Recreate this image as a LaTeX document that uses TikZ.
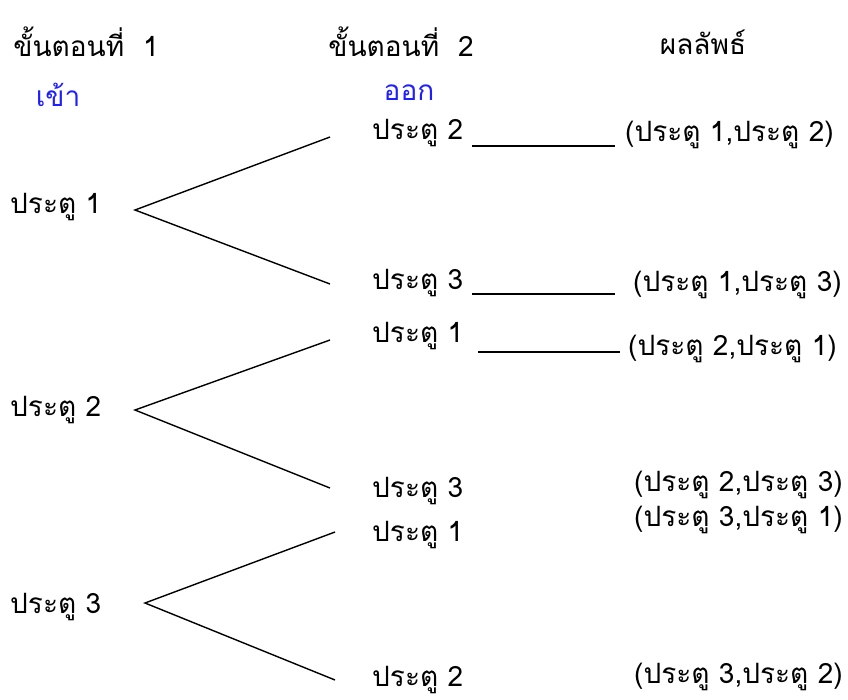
\documentclass[tikz,border=0pt]{standalone}
\usepackage{fontspec}
\setmainfont[Script=Thai]{Loma}
\newfontfamily\thaifont[Script=Thai]{Loma}
\usetikzlibrary{positioning}
\definecolor{headblue}{RGB}{30,30,255}
\begin{document}
\begin{tikzpicture}[x=1pt,y=-1pt,
  lbl/.style={anchor=west,inner sep=0pt,font=\thaifont\fontsize{28}{32}\selectfont},
  hd/.style={anchor=center,inner sep=0pt,font=\thaifont\fontsize{28}{32}\selectfont},
  bl/.style={hd,text=headblue},
  br/.style={line width=1.4pt,black}]
\useasboundingbox (0,0) rectangle (848,699);
% headings
\node[hd] (h1) at (86,42) {ขั้นตอนที่~~1};
\node[hd] (h2) at (401,42) {ขั้นตอนที่~~2};
\node[hd] (h3) at (703,42) {ผลลัพธ์};
\node[bl] (in) at (58,95) {เข้า};
\node[bl] (out) at (409,93) {ออก};
% level 1
\node[lbl] (a1) at (10,207) {ประตู 1};
\node[lbl] (a2) at (10,410) {ประตู 2};
\node[lbl] (a3) at (10,607) {ประตู 3};
\coordinate (p1) at (135,210);
\coordinate (p2) at (135,410);
\coordinate (p3) at (145,603);
\coordinate (e12) at (330,137);
\coordinate (e13) at (330,284);
\coordinate (e21) at (330,340);
\coordinate (e23) at (330,488);
\coordinate (e31) at (335,532);
\coordinate (e32) at (335,680);
% level 2
\node[lbl] (b12) at (372,133) {ประตู 2};
\node[lbl] (b13) at (372,283) {ประตู 3};
\node[lbl] (b21) at (372,336) {ประตู 1};
\node[lbl] (b23) at (372,491) {ประตู 3};
\node[lbl] (b31) at (372,535) {ประตู 1};
\node[lbl] (b32) at (372,680) {ประตู 2};
% results
\node[lbl] (r12) at (625,135) {(ประตู 1,ประตู 2)};
\node[lbl] (r13) at (633,285) {(ประตู 1,ประตู 3)};
\node[lbl] (r21) at (628,349) {(ประตู 2,ประตู 1)};
\node[lbl] (r23) at (634,485) {(ประตู 2,ประตู 3)};
\node[lbl] (r31) at (634,520) {(ประตู 3,ประตู 1)};
\node[lbl] (r32) at (634,677) {(ประตู 3,ประตู 2)};
% branches
\draw[br] (e12) -- (p1) -- (e13);
\draw[br] (e21) -- (p2) -- (e23);
\draw[br] (e31) -- (p3) -- (e32);
% result connectors
\coordinate (c12s) at (472,146); \coordinate (c12e) at (615,146);
\coordinate (c13s) at (472,294); \coordinate (c13e) at (615,294);
\coordinate (c21s) at (478,352); \coordinate (c21e) at (620,352);
\draw[br] (c12s) -- (c12e);
\draw[br] (c13s) -- (c13e);
\draw[br] (c21s) -- (c21e);
\end{tikzpicture}
\end{document}
